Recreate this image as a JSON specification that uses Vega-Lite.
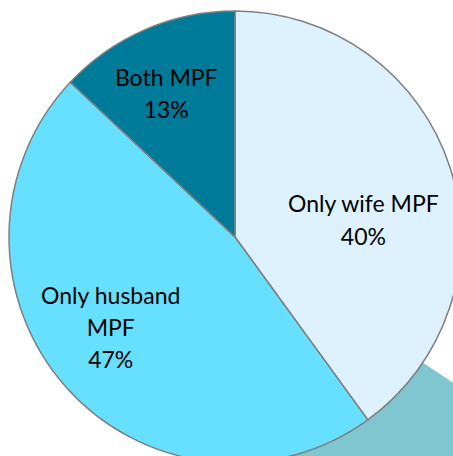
{
  "$schema": "https://vega.github.io/schema/vega-lite/v6.json",
  "width": 470,
  "height": 474,
  "padding": 0,
  "autosize": {"type": "none"},
  "background": "white",
  "config": {"view": {"stroke": null}},
  "data": {
    "values": [
      {"category": "Only wife MPF", "value": 40, "idx": 1, "lines": ["Only wife MPF", "40%"]},
      {"category": "Only husband MPF", "value": 47, "idx": 2, "lines": ["Only husband", "MPF", "47%"]},
      {"category": "Both MPF", "value": 13, "idx": 3, "lines": ["Both MPF", "13%"]}
    ]
  },
  "layer": [
    {
      "data": {"values": [{"shape": "backdrop"}]},
      "mark": {"type": "arc", "theta": 2.16, "theta2": 3.403, "radius": 340, "fill": "#80C6D0", "stroke": null},
      "encoding": {}
    },
    {
      "mark": {"type": "arc", "radius": 226, "stroke": "#7F7F7F", "strokeWidth": 1.5},
      "encoding": {
        "theta": {"field": "value", "type": "quantitative", "stack": true},
        "order": {"field": "idx", "type": "quantitative"},
        "color": {
          "field": "category",
          "type": "nominal",
          "scale": {"domain": ["Only wife MPF", "Only husband MPF", "Both MPF"], "range": ["#DDF2FE", "#66E0FE", "#007A99"]},
          "legend": null
        }
      }
    },
    {
      "mark": {"type": "text", "radius": 135, "dy": 10, "font": "Lato", "fontSize": 23, "lineHeight": 33, "color": "#000000", "align": "center", "baseline": "middle"},
      "encoding": {
        "theta": {"field": "value", "type": "quantitative", "stack": true},
        "order": {"field": "idx", "type": "quantitative"},
        "text": {"condition": {"test": "datum.idx == 1", "field": "lines"}, "value": ""}
      }
    },
    {
      "mark": {"type": "text", "radius": 155, "dx": -8, "dy": -43, "font": "Lato", "fontSize": 23, "lineHeight": 32, "color": "#000000", "align": "center", "baseline": "middle"},
      "encoding": {
        "theta": {"field": "value", "type": "quantitative", "stack": true},
        "order": {"field": "idx", "type": "quantitative"},
        "text": {"condition": {"test": "datum.idx == 2", "field": "lines"}, "value": ""}
      }
    },
    {
      "mark": {"type": "text", "radius": 158, "dx": -6, "dy": -13, "font": "Lato", "fontSize": 23, "lineHeight": 32, "color": "#000000", "align": "center", "baseline": "middle"},
      "encoding": {
        "theta": {"field": "value", "type": "quantitative", "stack": true},
        "order": {"field": "idx", "type": "quantitative"},
        "text": {"condition": {"test": "datum.idx == 3", "field": "lines"}, "value": ""}
      }
    }
  ]
}
